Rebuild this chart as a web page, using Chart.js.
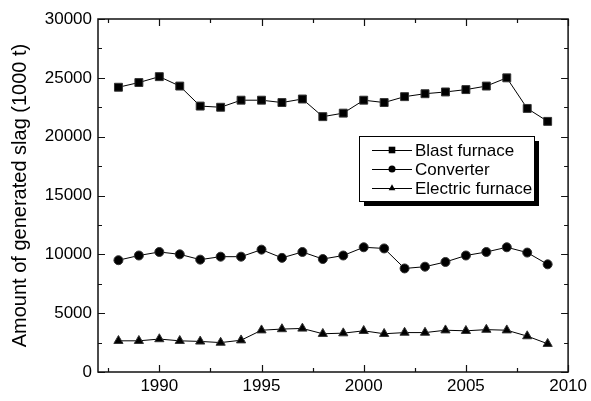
<!DOCTYPE html>
<html lang="en">
<head>
    <meta charset="UTF-8">
    <title>Amount of generated slag</title>
    <script src="https://cdn.jsdelivr.net/npm/chart.js"></script>
    <style>
        body { margin: 0; background: #fff; }
        #wrap { width: 591px; height: 401px; }
    </style>
</head>
<body>
    <div id="wrap"><canvas id="slagChart"></canvas></div>

    <script>
        // Datos
        const years = [1988, 1989, 1990, 1991, 1992, 1993, 1994, 1995, 1996, 1997, 1998,
                       1999, 2000, 2001, 2002, 2003, 2004, 2005, 2006, 2007, 2008, 2009];
        const blastFurnace = [24200, 24600, 25100, 24300, 22600, 22500, 23100, 23100, 22900, 23200, 21700,
                              22000, 23100, 22900, 23400, 23650, 23800, 24000, 24300, 25000, 22400, 21300];
        const converter = [9500, 9900, 10200, 10000, 9550, 9800, 9800, 10400, 9700, 10200, 9600,
                           9900, 10600, 10500, 8800, 8950, 9350, 9900, 10200, 10600, 10150, 9150];
        const electricFurnace = [2650, 2650, 2800, 2650, 2600, 2500, 2700, 3550, 3650, 3700, 3250,
                                 3300, 3500, 3250, 3350, 3350, 3550, 3500, 3600, 3550, 3050, 2400];
        const seriesNames = ['Blast furnace', 'Converter', 'Electric furnace'];
        const xTicks = [1990, 1995, 2000, 2005, 2010];
        const xMinorTicks = [1987.5, 1992.5, 1997.5, 2002.5, 2007.5];
        const yTicks = [0, 5000, 10000, 15000, 20000, 25000, 30000];
        const yMinorTicks = [2500, 7500, 12500, 17500, 22500, 27500];

        const FONT = 'Liberation Sans, Arial, sans-serif';

        function toPoints(values) {
            return years.map((y, i) => ({ x: y, y: values[i] }));
        }

        function marker(ctx, style, x, y, r) {
            ctx.beginPath();
            if (style === 'rect') {
                ctx.rect(x - r, y - r, 2 * r, 2 * r);
            } else if (style === 'circle') {
                ctx.arc(x, y, r, 0, Math.PI * 2);
            } else {
                ctx.moveTo(x, y - r * 1.1);
                ctx.lineTo(x + r, y + r * 0.7);
                ctx.lineTo(x - r, y + r * 0.7);
                ctx.closePath();
            }
            ctx.fill();
        }

        // Marco, marcas hacia dentro y leyenda
        const framePlugin = {
            id: 'frame',
            afterDraw(chart) {
                const ctx = chart.ctx;
                const a = chart.chartArea;
                const xs = chart.scales.x;
                const ys = chart.scales.y;
                ctx.save();
                ctx.strokeStyle = '#111';
                ctx.lineWidth = 1.5;
                ctx.strokeRect(a.left, a.top, a.right - a.left, a.bottom - a.top);

                ctx.lineWidth = 1.2;
                ctx.beginPath();
                const tickX = (v, len) => {
                    const px = Math.round(xs.getPixelForValue(v)) + 0.5;
                    ctx.moveTo(px, a.bottom); ctx.lineTo(px, a.bottom - len);
                    ctx.moveTo(px, a.top); ctx.lineTo(px, a.top + len);
                };
                const tickY = (v, len) => {
                    const py = Math.round(ys.getPixelForValue(v)) + 0.5;
                    ctx.moveTo(a.left, py); ctx.lineTo(a.left + len, py);
                    ctx.moveTo(a.right, py); ctx.lineTo(a.right - len, py);
                };
                xTicks.forEach(v => tickX(v, 7));
                xMinorTicks.forEach(v => tickX(v, 4));
                yTicks.forEach(v => tickY(v, 7));
                yMinorTicks.forEach(v => tickY(v, 4));
                ctx.stroke();

                // Leyenda
                const lx = 359, ly = 136, lw = 175, lh = 65;
                ctx.fillStyle = '#000';
                ctx.fillRect(lx + 5, ly + 5, lw, lh);
                ctx.fillStyle = '#fff';
                ctx.fillRect(lx, ly, lw, lh);
                ctx.strokeStyle = '#000';
                ctx.lineWidth = 1;
                ctx.strokeRect(lx + 0.5, ly + 0.5, lw, lh);

                ctx.font = '17px ' + FONT;
                ctx.textBaseline = 'middle';
                chart.data.datasets.forEach((ds, i) => {
                    const ry = 150 + i * 19;
                    ctx.strokeStyle = '#000';
                    ctx.lineWidth = 1;
                    ctx.beginPath();
                    ctx.moveTo(372, ry + 0.5);
                    ctx.lineTo(412, ry + 0.5);
                    ctx.stroke();
                    ctx.fillStyle = '#000';
                    marker(ctx, ds.pointStyle, 392, ry, ds.pointStyle === 'circle' ? 3.5 : 3.3);
                    ctx.fillText(ds.label, 415, ry + 1);
                });
                ctx.restore();
            }
        };

        const commonSet = {
            borderColor: '#000',
            backgroundColor: '#000',
            borderWidth: 1,
            pointBorderColor: '#333',
            pointBorderWidth: 1,
            fill: false,
            tension: 0
        };

        new Chart(document.getElementById('slagChart'), {
            type: 'line',
            data: {
                datasets: [
                    Object.assign({ label: seriesNames[0], data: toPoints(blastFurnace), pointStyle: 'rect', pointRadius: 5.6 }, commonSet),
                    Object.assign({ label: seriesNames[1], data: toPoints(converter), pointStyle: 'circle', pointRadius: 4.5 }, commonSet),
                    Object.assign({ label: seriesNames[2], data: toPoints(electricFurnace), pointStyle: 'triangle', pointRadius: 5.3 }, commonSet)
                ]
            },
            options: {
                responsive: true,
                maintainAspectRatio: false,
                animation: false,
                layout: { padding: { top: 19, right: 20, left: 0, bottom: 0 } },
                plugins: {
                    legend: { display: false },
                    tooltip: { enabled: false }
                },
                scales: {
                    x: {
                        type: 'linear',
                        min: 1987,
                        max: 2010,
                        afterBuildTicks(scale) { scale.ticks = xTicks.map(v => ({ value: v })); },
                        afterFit(scale) { scale.height = 29; },
                        grid: { display: false, drawTicks: false },
                        border: { display: false },
                        ticks: {
                            color: '#000',
                            padding: 4,
                            maxRotation: 0,
                            font: { family: FONT, size: 17 },
                            callback: v => String(v)
                        }
                    },
                    y: {
                        min: 0,
                        max: 30000,
                        afterBuildTicks(scale) { scale.ticks = yTicks.map(v => ({ value: v })); },
                        afterFit(scale) { scale.width = 98; },
                        grid: { display: false, drawTicks: false },
                        border: { display: false },
                        title: {
                            display: true,
                            text: 'Amount of generated slag (1000 t)',
                            color: '#000',
                            padding: { top: 8, bottom: 0 },
                            font: { family: FONT, size: 20, weight: 'normal' }
                        },
                        ticks: {
                            color: '#000',
                            padding: 6,
                            font: { family: FONT, size: 17 },
                            callback: v => String(v)
                        }
                    }
                }
            },
            plugins: [framePlugin]
        });
    </script>
</body>
</html>
